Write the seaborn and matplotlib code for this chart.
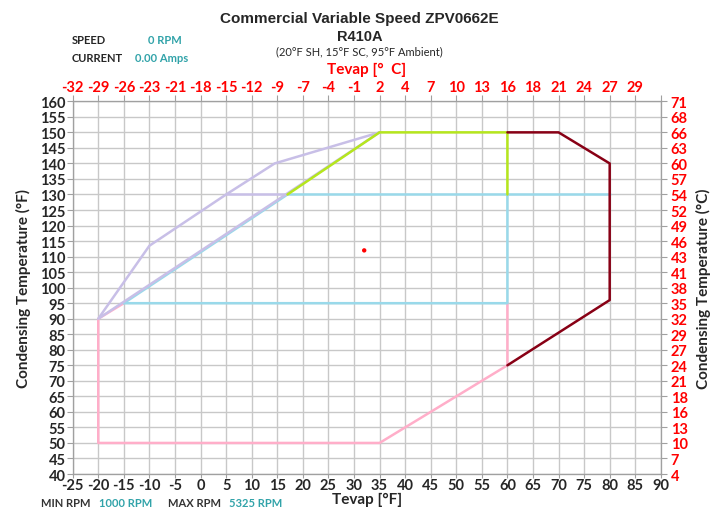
import numpy as np
import pandas as pd
import matplotlib.pyplot as plt
import seaborn as sns

# envelope outlines, (Tevap degF, Tcond degF)
pink_x = [-15, -20, -20, 35, 60, 60]
pink_y = [95, 90, 50, 50, 75, 95]
blue_x = [-15, 60, 60, 17, -15]
blue_y = [95, 95, 130, 130, 95]
blue2_x = [60, 80]
blue2_y = [130, 130]
lav_x = [35, 14.5, 5, -10, -20, 35]
lav_y = [150, 140, 130, 113.5, 90, 150]
lav2_x = [5, 17]
lav2_y = [130, 130]
green_x = [17, 35, 60, 60]
green_y = [130, 150, 150, 130]
red_x = [60, 70, 80, 80, 60]
red_y = [150, 150, 140, 96, 75]
point_x = [32]
point_y = [112]

x_ticks = list(range(-25, 95, 5))
y_ticks = list(range(40, 165, 5))
top_labels = ["-32", "-29", "-26", "-23", "-21", "-18", "-15", "-12", "-9", "-7", "-4", "-1",
              "2", "4", "7", "10", "13", "16", "18", "21", "24", "27", "29", ""]
right_labels = ["4", "7", "10", "13", "16", "18", "21", "24", "27", "29", "32", "35", "38",
                "41", "43", "46", "49", "52", "54", "57", "60", "63", "66", "68", "71"]

sns.set_style("white")
plt.rcParams['font.family'] = ['Lato', 'DejaVu Sans']
TICKFONT = dict(fontsize=10.5, fontweight='bold')
SMALL = dict(fontsize=8, fontweight='bold')

fig = plt.figure(figsize=(7.19, 5.10), dpi=100)
ax = fig.add_axes([0.1011, 0.0686, 0.818, 0.7308])

for xs, ys, c in [(pink_x, pink_y, '#ffaec9'), (blue_x, blue_y, '#99d9ea'),
                  (blue2_x, blue2_y, '#99d9ea'), (lav_x, lav_y, '#c8bfe7'),
                  (lav2_x, lav2_y, '#c8bfe7'), (green_x, green_y, '#b5e61d'),
                  (red_x, red_y, '#880015')]:
    df = pd.DataFrame({'x': xs, 'y': ys})
    sns.lineplot(data=df, x='x', y='y', sort=False, estimator=None, color=c, lw=1.8, ax=ax)

sns.scatterplot(x=point_x, y=point_y, color='red', s=10, edgecolor='none', ax=ax, zorder=5)

ax.set_xlim(-25, 90)
ax.set_ylim(40, 160)
ax.set_xticks(x_ticks)
ax.set_yticks(y_ticks)
ax.set_xticklabels([str(v) for v in x_ticks], **TICKFONT)
ax.set_yticklabels([str(v) for v in y_ticks], **TICKFONT)
ax.grid(True, color='#c8c8c8', lw=1)
ax.set_axisbelow(True)
for s in ax.spines.values():
    s.set_color('#a0a0a0')
ax.tick_params(axis='y', length=4, color='#a0a0a0', pad=1)
ax.tick_params(axis='x', length=3, color='#a0a0a0', pad=0)
ax.set_xlabel("Tevap [°F]", fontsize=11, fontweight='bold', labelpad=0)
ax.set_ylabel("Condensing Temperature (°F)", fontsize=11, fontweight='bold', labelpad=7)

axt = ax.twiny()
axt.set_xlim(ax.get_xlim())
axt.set_xticks(x_ticks)
axt.set_xticklabels(top_labels, color='red', **TICKFONT)
axt.tick_params(length=4, color='#a0a0a0', pad=1)
axt.set_xlabel("Tevap [°  C]", fontsize=11, fontweight='bold', color='red', labelpad=5)

axr = ax.twinx()
axr.set_ylim(ax.get_ylim())
axr.set_yticks(y_ticks)
axr.set_yticklabels(right_labels, color='red', **TICKFONT)
axr.tick_params(length=4, color='#a0a0a0', pad=3)
axr.set_ylabel("Condensing Temperature (°C)", fontsize=11, fontweight='bold', labelpad=6)
for a in (axt, axr):
    for s in a.spines.values():
        s.set_color('#a0a0a0')

fig.text(0.5, 0.963, "Commercial Variable Speed ZPV0662E", ha='center', va='center',
         fontsize=11, fontweight='bold', family='Liberation Sans')
fig.text(0.5, 0.927, "R410A", ha='center', va='center', fontsize=10.5, fontweight='bold',
         family='Liberation Sans')
fig.text(0.5, 0.898, "(20°F SH, 15°F SC, 95°F Ambient)", ha='center', va='center', fontsize=8)

fig.text(0.100, 0.921, "SPEED", va='center', **SMALL)
fig.text(0.206, 0.921, "0 RPM", va='center', color='#31a3a9', **SMALL)
fig.text(0.100, 0.886, "CURRENT", va='center', **SMALL)
fig.text(0.188, 0.886, "0.00 Amps", va='center', color='#31a3a9', **SMALL)

fig.text(0.057, 0.012, "MIN RPM", va='center', color='#333333', **SMALL)
fig.text(0.137, 0.012, "1000 RPM", va='center', color='#31a3a9', **SMALL)
fig.text(0.234, 0.012, "MAX RPM", va='center', color='#333333', **SMALL)
fig.text(0.319, 0.012, "5325 RPM", va='center', color='#31a3a9', **SMALL)

fig.savefig("out.png", dpi=100)
